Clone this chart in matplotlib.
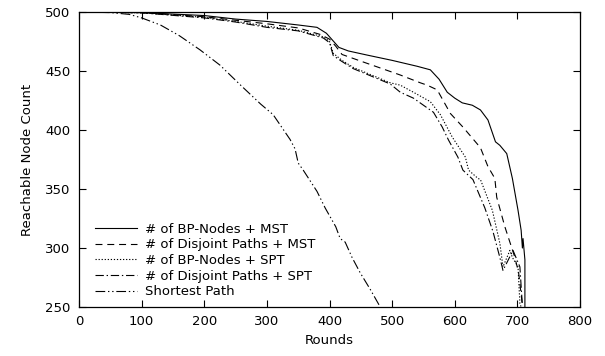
import matplotlib
matplotlib.use('Agg')
import matplotlib.pyplot as plt

# series (rounds, reachable node count)
bp_mst_x = [0, 100, 200, 250, 300, 350, 380, 395, 405, 415, 430, 460, 500, 540, 561, 575, 588, 600,
            612, 628, 641, 653, 665, 672, 683, 692, 701, 706, 708, 709, 712, 712]
bp_mst_y = [500, 499.5, 497, 494, 492, 489, 487, 482, 476, 470, 467, 463.5, 459, 454, 451, 443, 432, 427,
            423, 421, 417, 408.5, 390, 387, 380, 359, 332, 315, 300, 308, 290, 250]

dp_mst_x = [0, 100, 200, 250, 300, 350, 385, 400, 410, 420, 454, 513, 545, 556, 572, 593, 613, 641,
            653, 664, 667, 680, 696, 702, 707, 708]
dp_mst_y = [500, 499.5, 496, 493, 490, 486.5, 481, 477, 471, 464, 457.6, 446.6, 440, 438, 434, 414, 402.5, 385,
            369, 359, 343, 318, 292, 279, 256, 250]

bp_spt_x = [0, 100, 200, 250, 300, 350, 390, 400, 406, 420, 438, 497, 513, 534, 561, 577, 596, 617,
            622, 637, 641, 660, 672, 677, 688, 692, 701, 704, 706]
bp_spt_y = [500, 499.3, 495.5, 492, 488, 484.5, 479, 475, 465, 459, 453, 440, 438, 432, 424, 413, 394, 377,
            366, 359, 358, 332, 304, 284, 298, 292, 284, 253, 250]

dp_spt_x = [0, 100, 200, 250, 300, 350, 390, 400, 406, 420, 438, 497, 513, 534, 566, 580, 590, 605,
            613, 625, 629, 648, 661, 672, 677, 693, 704, 708]
dp_spt_y = [500, 499.3, 495, 491.5, 487, 484, 478, 474, 463, 458, 452, 439, 432, 427, 415, 402.5, 391.5, 377,
            366, 360, 358, 334, 314, 292, 281, 298, 284, 251]

sp_x = [0, 50, 80, 100, 130, 160, 193, 225, 260, 290, 310, 337, 345, 350, 358, 380, 393, 410, 417,
        425, 436, 449, 465, 481]
sp_y = [500, 499.5, 498, 495, 489, 480, 468, 455, 437, 422, 413, 392, 384, 372, 366, 348, 334, 318, 308,
        305, 292, 279, 265, 250]

labels = ['# of BP-Nodes + MST', '# of Disjoint Paths + MST', '# of BP-Nodes + SPT',
          '# of Disjoint Paths + SPT', 'Shortest Path']

plt.rcParams['font.family'] = 'DejaVu Sans'
plt.rcParams['font.size'] = 9.5
plt.rcParams['lines.scale_dashes'] = False

fig = plt.figure(figsize=(6.05, 3.56), dpi=100)
ax = fig.add_axes([0.1306, 0.1376, 0.8281, 0.8287])

lw = 0.8
ax.plot(bp_mst_x, bp_mst_y, color='black', lw=lw, label=labels[0])
ax.plot(dp_mst_x, dp_mst_y, color='black', lw=lw, dashes=(5, 3.5), label=labels[1])
ax.plot(bp_spt_x, bp_spt_y, color='black', lw=lw, dashes=(0.9, 1.3), label=labels[2])
ax.plot(dp_spt_x, dp_spt_y, color='black', lw=lw, dashes=(6, 2, 1, 2), label=labels[3])
ax.plot(sp_x, sp_y, color='black', lw=lw, dashes=(7, 2, 1, 2, 1, 2), label=labels[4])

ax.set_xlim(0, 800)
ax.set_ylim(250, 500)
ax.set_xticks(range(0, 801, 100))
ax.set_yticks(range(250, 501, 50))
ax.tick_params(direction='in', top=True, right=True, length=5, width=0.8, pad=6)
for s in ax.spines.values():
    s.set_linewidth(0.9)

ax.set_xlabel('Rounds', labelpad=4)
ax.set_ylabel('Reachable Node Count', labelpad=8)

ax.legend(loc='lower left', bbox_to_anchor=(0.005, -0.015), frameon=False,
          handlelength=3.2, handletextpad=0.6, labelspacing=0.2, borderaxespad=0.6)

fig.savefig('out.png', dpi=100)
